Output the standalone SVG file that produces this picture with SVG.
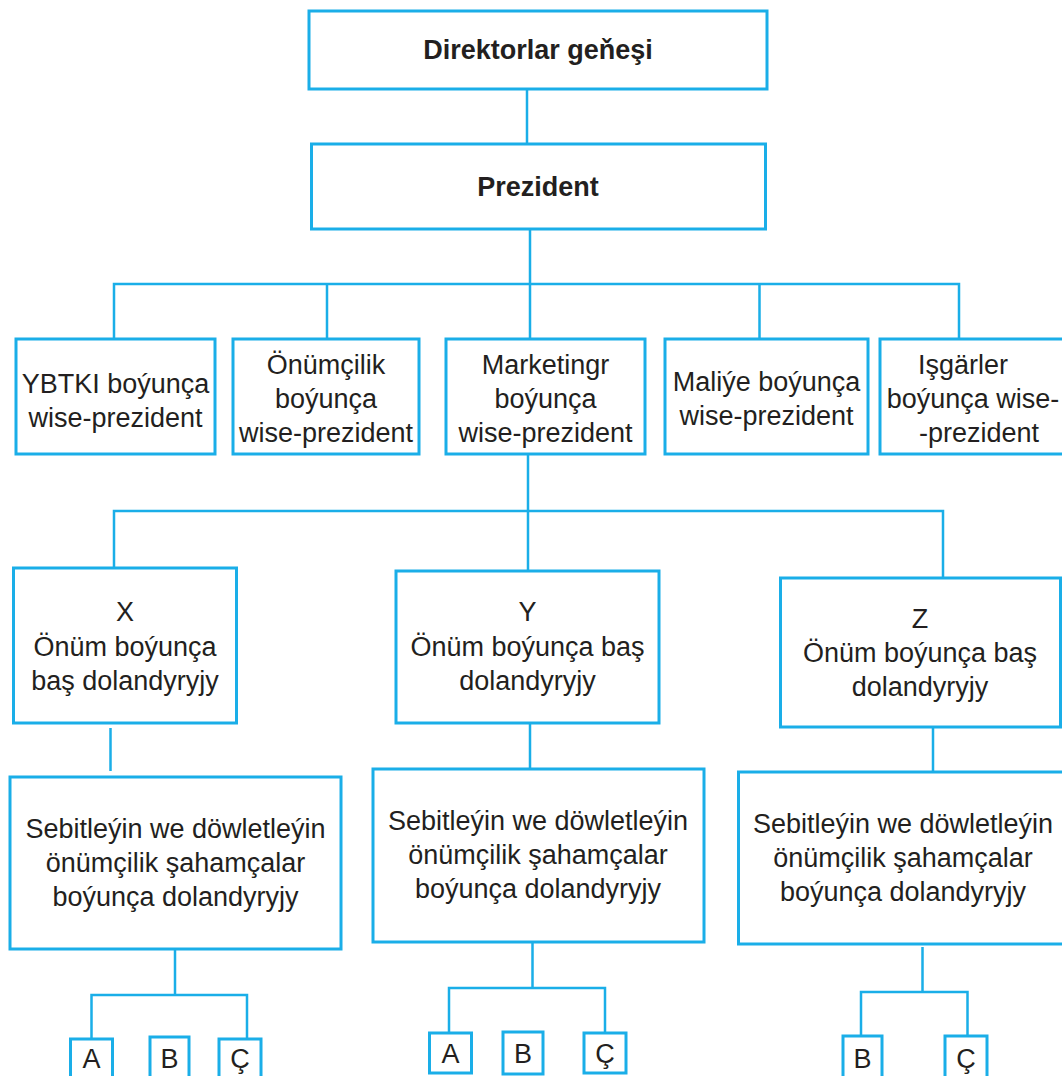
<svg xmlns="http://www.w3.org/2000/svg" width="1062" height="1076" viewBox="0 0 1062 1076">
<style>
.box{fill:#fff;stroke:#1AAEE8;stroke-width:3}
.ln{fill:none;stroke:#1AAEE8;stroke-width:2.5}
text{font-family:"Liberation Sans",Arial,sans-serif;font-size:27px;fill:#231f20;text-anchor:middle}
.b{font-weight:bold}
</style>
<rect width="1062" height="1076" fill="#fff"/>
<g id="connectors">
<path class="ln" d="M527,89V144"/>
<path class="ln" d="M530,229V284M114,339V284H959V339M327,284V339M530,284V339M759.5,284V339"/>
<path class="ln" d="M528,454V511M114,568V511H943V578M528,511V571"/>
<path class="ln" d="M110.5,728V771M530,723V769M933,727V772"/>
<path class="ln" d="M175,949V995M91.5,1039V995H247V1039"/>
<path class="ln" d="M532.5,942V988M449,1033V988H605V1033"/>
<path class="ln" d="M922.5,947V992M861,1036V992H967.5V1036"/>
</g>
<g id="n-direktorlar"><rect class="box" x="309" y="11" width="458" height="78"/><text class="b" x="538" y="59">Direktorlar geňeşi</text></g>
<g id="n-prezident"><rect class="box" x="311.5" y="144" width="454" height="85"/><text class="b" x="538" y="196">Prezident</text></g>
<g id="n-ybtki"><rect class="box" x="16" y="339" width="199" height="115"/><text x="115.5" y="393">YBTKI boýunça</text><text x="115.5" y="427">wise-prezident</text></g>
<g id="n-onumcilik"><rect class="box" x="233" y="339" width="186" height="115"/><text x="326" y="374">Önümçilik</text><text x="326" y="408">boýunça</text><text x="326" y="442">wise-prezident</text></g>
<g id="n-marketing"><rect class="box" x="446" y="339" width="199" height="115"/><text x="545.5" y="374">Marketingr</text><text x="545.5" y="408">boýunça</text><text x="545.5" y="442">wise-prezident</text></g>
<g id="n-maliye"><rect class="box" x="665" y="339" width="203" height="115"/><text x="766.5" y="391">Maliýe boýunça</text><text x="766.5" y="425">wise-prezident</text></g>
<g id="n-isgarler"><rect class="box" x="880" y="339" width="190" height="115"/><text x="963" y="374">Işgärler</text><text x="973" y="408">boýunça wise-</text><text x="979" y="442">-prezident</text></g>
<g id="n-x"><rect class="box" x="13.5" y="568" width="223" height="155"/><text x="125" y="621">X</text><text x="125" y="656">Önüm boýunça</text><text x="125" y="690">baş dolandyryjy</text></g>
<g id="n-y"><rect class="box" x="396" y="571" width="263" height="152"/><text x="527.5" y="621">Y</text><text x="527.5" y="656">Önüm boýunça baş</text><text x="527.5" y="690">dolandyryjy</text></g>
<g id="n-z"><rect class="box" x="780.5" y="578" width="280" height="149"/><text x="920" y="628">Z</text><text x="920" y="662">Önüm boýunça baş</text><text x="920" y="696">dolandyryjy</text></g>
<g id="n-xs"><rect class="box" x="10" y="777" width="331" height="172"/><text x="175.5" y="838">Sebitleýin we döwletleýin</text><text x="175.5" y="872">önümçilik şahamçalar</text><text x="175.5" y="906">boýunça dolandyryjy</text></g>
<g id="n-ys"><rect class="box" x="373" y="769" width="331" height="173"/><text x="538" y="830">Sebitleýin we döwletleýin</text><text x="538" y="864">önümçilik şahamçalar</text><text x="538" y="898">boýunça dolandyryjy</text></g>
<g id="n-zs"><rect class="box" x="738.5" y="772" width="330" height="172"/><text x="903" y="833">Sebitleýin we döwletleýin</text><text x="903" y="867">önümçilik şahamçalar</text><text x="903" y="901">boýunça dolandyryjy</text></g>
<g id="n-xa"><rect class="box" x="70.5" y="1039" width="42" height="45"/><text x="91.5" y="1068">A</text></g>
<g id="n-xb"><rect class="box" x="150" y="1037" width="39" height="47"/><text x="169.5" y="1068">B</text></g>
<g id="n-xc"><rect class="box" x="219" y="1039" width="42" height="45"/><text x="240" y="1068">Ç</text></g>
<g id="n-ya"><rect class="box" x="429.5" y="1033" width="42" height="40"/><text x="450.5" y="1063">A</text></g>
<g id="n-yb"><rect class="box" x="503" y="1032" width="40" height="42"/><text x="523" y="1063">B</text></g>
<g id="n-yc"><rect class="box" x="584" y="1033" width="42" height="40"/><text x="605" y="1063">Ç</text></g>
<g id="n-zb"><rect class="box" x="843" y="1036" width="39" height="48"/><text x="862.5" y="1068">B</text></g>
<g id="n-zc"><rect class="box" x="945" y="1036" width="42" height="48"/><text x="966" y="1068">Ç</text></g>
</svg>
